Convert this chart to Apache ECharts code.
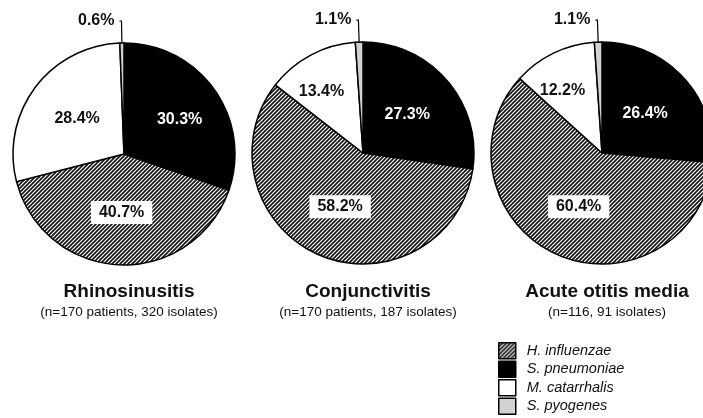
<!DOCTYPE html>
<html>
<head>
<meta charset="utf-8">
<script src="https://cdn.jsdelivr.net/npm/echarts@6/dist/echarts.min.js"></script>
<style>
  html, body { margin: 0; padding: 0; background: #fff; }
  #chart { width: 703px; height: 418px; }
</style>
</head>
<body>
<div id="chart"></div>
<script>
// ---- data ----
const categories = ['S. pneumoniae', 'H. influenzae', 'M. catarrhalis', 'S. pyogenes'];
const legendOrder = ['H. influenzae', 'S. pneumoniae', 'M. catarrhalis', 'S. pyogenes'];
const rhinosinusitis = [30.3, 40.7, 28.4, 0.6];
const conjunctivitis = [27.3, 58.2, 13.4, 1.1];
const otitisMedia = [26.4, 60.4, 12.2, 1.1];
const panelTitles = ['Rhinosinusitis', 'Conjunctivitis', 'Acute otitis media'];
const panelSubtitles = ['(n=170 patients, 320 isolates)', '(n=170 patients, 187 isolates)', '(n=116, 91 isolates)'];

// ---- styling ----
function hatchPattern() {
  const s = 4;
  const c = document.createElement('canvas');
  c.width = s; c.height = s;
  const g = c.getContext('2d');
  g.fillStyle = '#ffffff';
  g.fillRect(0, 0, s, s);
  g.strokeStyle = '#111';
  g.lineWidth = 1.6;
  g.beginPath();
  g.moveTo(0, s); g.lineTo(s, 0);
  g.moveTo(-1, 1); g.lineTo(1, -1);
  g.moveTo(s - 1, s + 1); g.lineTo(s + 1, s - 1);
  g.stroke();
  return { image: c, repeat: 'repeat' };
}
const hatch = hatchPattern();
const fills = {
  'S. pneumoniae': '#000000',
  'H. influenzae': hatch,
  'M. catarrhalis': '#ffffff',
  'S. pyogenes': '#d2d2d2'
};
const labelStyles = {
  'S. pneumoniae': { position: 'inside', color: '#ffffff' },
  'H. influenzae': { position: 'inside', color: '#111', backgroundColor: '#ffffff', padding: [4, 8, 3, 8] },
  'M. catarrhalis': { position: 'inside', color: '#111' },
  'S. pyogenes': { position: 'outside', color: '#111' }
};

const centers = [[124, 154], [363, 153], [602, 153]];
const datasets = [rhinosinusitis, conjunctivitis, otitisMedia];

const series = datasets.map((vals, i) => ({
  type: 'pie',
  center: centers[i],
  radius: 111,
  startAngle: 90,
  clockwise: true,
  avoidLabelOverlap: false,
  animation: false,
  silent: true,
  itemStyle: { borderColor: '#000', borderWidth: 1.5 },
  label: {
    fontFamily: 'Liberation Sans, Arial, sans-serif',
    fontSize: 16,
    fontWeight: 'bold',
    formatter: p => p.value.toFixed(1) + '%'
  },
  labelLine: { show: true, length: 22, length2: 2, lineStyle: { color: '#000', width: 1.2 } },
  labelLayout: function (p) {
    // nudge the small white-slice label outward as in the source figure
    if (p.seriesIndex > 0 && p.dataIndex === 2) return { dx: -14, dy: -10 };
    if (p.seriesIndex === 0 && p.dataIndex === 0) return { dx: 8, dy: 0 };
    return {};
  },
  data: categories.map((name, k) => ({
    name: name,
    value: vals[k],
    itemStyle: { color: fills[name] },
    label: labelStyles[name],
    labelLine: { show: name === 'S. pyogenes' }
  }))
}));

const titles = panelTitles.map((t, i) => ({
  text: t,
  subtext: panelSubtitles[i],
  left: centers[i][0],
  top: 277,
  textAlign: 'center',
  itemGap: 4,
  textStyle: { fontFamily: 'Liberation Sans, Arial, sans-serif', fontSize: 19, fontWeight: 'bold', color: '#111' },
  subtextStyle: { fontFamily: 'Liberation Sans, Arial, sans-serif', fontSize: 13.5, color: '#111' }
}));

const chart = echarts.init(document.getElementById('chart'), null, { renderer: 'canvas' });
chart.setOption({
  backgroundColor: '#ffffff',
  animation: false,
  title: titles,
  legend: {
    data: legendOrder,
    orient: 'vertical',
    left: 498,
    top: 342,
    height: 80,
    padding: 0,
    itemWidth: 17,
    itemHeight: 16,
    itemGap: 1,
    icon: 'rect',
    itemStyle: { borderColor: '#000', borderWidth: 1.5 },
    textStyle: {
      fontFamily: 'Liberation Sans, Arial, sans-serif', fontSize: 14.5, fontStyle: 'italic',
      color: '#111', lineHeight: 16, padding: [0, 0, 0, 6]
    },
    selectedMode: false
  },
  series: series
});
</script>
</body>
</html>
